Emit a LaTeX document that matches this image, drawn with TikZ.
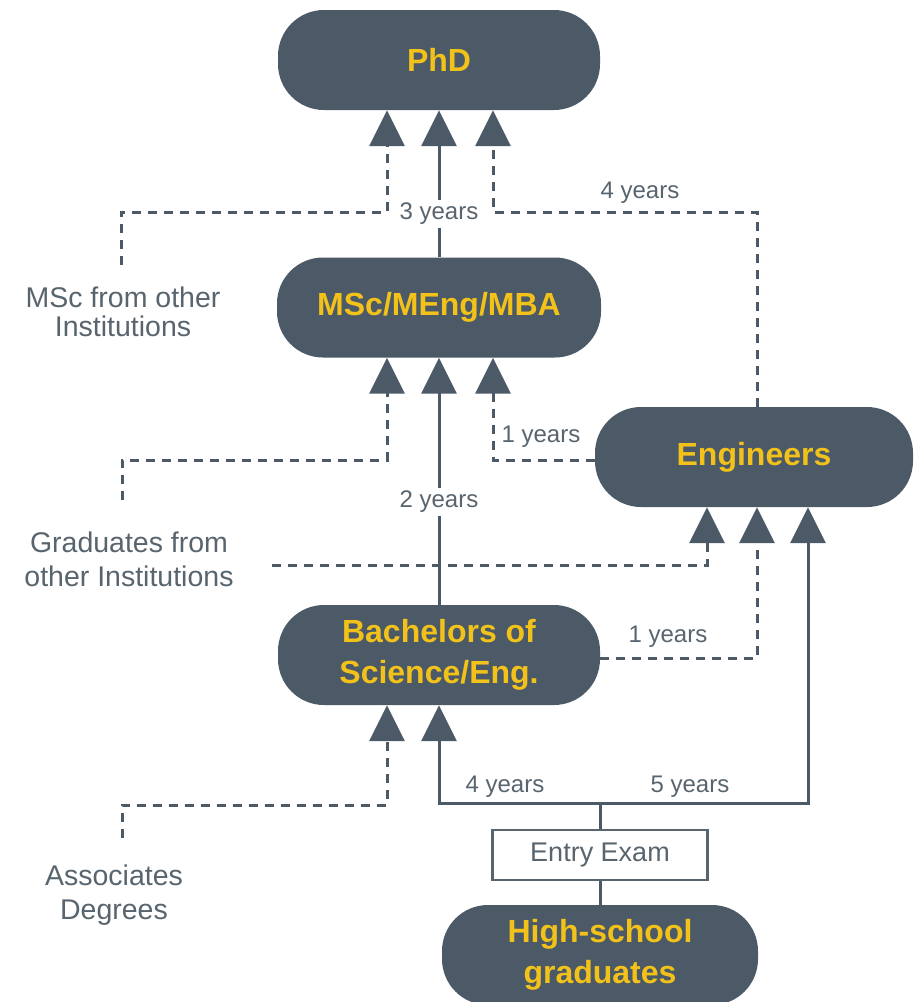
\documentclass[tikz,border=0pt]{standalone}
\usepackage{fontspec}
\setmainfont{Liberation Sans}
\usetikzlibrary{arrows.meta}
\definecolor{slate}{HTML}{4B5A66}
\definecolor{gold}{HTML}{F2C21B}
\definecolor{txtgray}{HTML}{59656E}
\tikzset{
  box/.style={fill=slate, rounded corners=46pt, text=gold, align=center,
    font=\fontsize{32}{41}\selectfont\bfseries, minimum height=100pt, inner sep=0pt},
  lbl/.style={text=txtgray, align=center, font=\fontsize{28.5}{34}\selectfont},
  yrs/.style={text=txtgray, font=\fontsize{24}{28}\selectfont, inner sep=3pt},
  sl/.style={draw=slate, line width=3pt},
  dl/.style={sl, dash pattern=on 9pt off 7pt},
  arr/.style={-{Triangle[width=35pt,length=36pt]}},
}
\begin{document}
\begin{tikzpicture}[x=1pt,y=-1pt]
\useasboundingbox (0,0) rectangle (914,1002);
\fill[white] (0,0) rectangle (914,1002);

% boxes
\node[box, minimum width=322pt] (phd) at (439,60) {PhD};
\node[box, minimum width=324pt] (msc) at (439,307.5) {MSc/MEng/MBA};
\node[box, minimum width=318pt] (eng) at (754,457) {Engineers};
\node[box, minimum width=322pt] (bsc) at (439,655) {Bachelors of\\Science/Eng.};
\node[box, minimum width=316pt] (hs) at (600,955) {High-school\\graduates};
\node[draw=txtgray, line width=2.5pt, fill=white, text=txtgray, minimum width=215pt,
  minimum height=50pt, font=\fontsize{27}{30}\selectfont] (exam) at (600,855) {Entry Exam};

% coordinates
\coordinate (a0) at (121,265);
\coordinate (a1) at (387,212);
\coordinate (c1) at (493,212);
\coordinate (c2) at (757,212);
\coordinate (d0) at (122,500);
\coordinate (d1) at (387,460);
\coordinate (e1) at (493,460);
\coordinate (g0) at (272,565);
\coordinate (g1) at (707,565);
\coordinate (h1) at (757,658);
\coordinate (k1) at (439,803);
\coordinate (k2) at (808,803);
\coordinate (m0) at (122,838);
\coordinate (m1) at (387,805);

% to PhD
\draw[dl,arr] (a0) |- (a1) -- (a1 |- phd.south);
\draw[sl,arr] (msc.north) -- (phd.south);
\draw[dl,arr] (c2 |- eng.north) -- (c2) -- (c1) -- (c1 |- phd.south);

% to MSc
\draw[dl,arr] (d0) |- (d1) -- (d1 |- msc.south);
\draw[sl,arr] (bsc.north) -- (msc.south);
\draw[dl,arr] (eng.west |- e1) -- (e1) -- (e1 |- msc.south);

% to Engineers
\draw[dl,arr] (g0) -- (g1) -- (g1 |- eng.south);
\draw[dl,arr] (bsc.east |- h1) -- (h1) -- (h1 |- eng.south);
\draw[sl,arr] (k1) -- (k2) -- (k2 |- eng.south);

% to Bachelors
\draw[dl,arr] (m0) |- (m1) -- (m1 |- bsc.south);
\draw[sl,arr] (k2) -- (k1) -- (k1 |- bsc.south);

% entry
\draw[sl] (exam.north) -- (exam.north |- k1);
\draw[sl] (hs.north) -- (exam.south);

% side labels
\node[lbl, font=\fontsize{28.5}{29}\selectfont] (l1) at (123,312) {MSc from other\\Institutions};
\node[lbl] (l2) at (129,559) {Graduates from\\other Institutions};
\node[lbl] (l3) at (114,895) {Associates\\Degrees};

% year labels
\node[yrs, fill=white] (y3) at (439,214) {3 years};
\node[yrs] (y4) at (640,193) {4 years};
\node[yrs] (y1a) at (541,437) {1 years};
\node[yrs, fill=white] (y2) at (439,502) {2 years};
\node[yrs] (y1b) at (668,637) {1 years};
\node[yrs] (y4b) at (505,787) {4 years};
\node[yrs] (y5) at (690,787) {5 years};
\end{tikzpicture}
\end{document}
